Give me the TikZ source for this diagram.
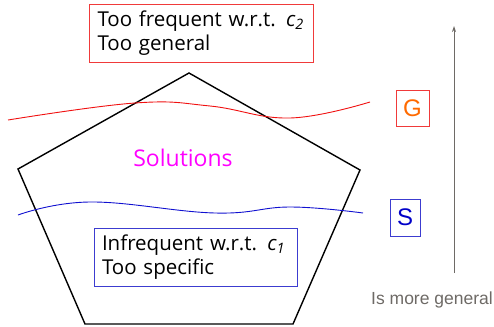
\documentclass[tikz,border=0pt]{standalone}
\usepackage{fontspec}
\setmainfont{Open Sans}
\newfontfamily\arialfont{Liberation Sans}
\usetikzlibrary{arrows.meta}
\definecolor{boxred}{HTML}{F03A3A}
\definecolor{boxblue}{HTML}{3C3CD0}
\definecolor{curvered}{HTML}{F01010}
\definecolor{curveblue}{HTML}{1010D0}
\definecolor{gorange}{HTML}{FF6A00}
\definecolor{sblue}{HTML}{0000C8}
\definecolor{axisgray}{HTML}{6E6A66}
\definecolor{solmagenta}{HTML}{FF00FF}
\tikzset{
  infobox/.style={draw, line width=0.9pt, align=left, anchor=center,
    inner xsep=8pt, font=\fontsize{20.5}{23.5}\selectfont},
  letterbox/.style={draw, line width=0.9pt, inner sep=0pt,
    font=\arialfont\fontsize{24}{24}\selectfont},
  region/.style={line width=1.4pt, line join=miter},
  border/.style={line width=0.9pt}
}
\begin{document}
\begin{tikzpicture}[x=1pt,y=-1pt]
\useasboundingbox (0,0) rectangle (494,326);

% the space of solutions
\coordinate (top) at (189,73);
\coordinate (right) at (360,170);
\coordinate (bright) at (293,324);
\coordinate (bleft) at (85,324);
\coordinate (left) at (18,169);
\draw[region] (top) -- (right) -- (bright) -- (bleft) -- (left) -- cycle;

% G and S borders
\draw[border, curvered] plot[smooth, tension=0.7] coordinates
  {(8,120) (135,103) (210,106) (290,118) (370,102)};
\draw[border, curveblue] plot[smooth, tension=0.7] coordinates
  {(18,215) (90,202) (215,213) (290,207) (363,213)};

\node[text=solmagenta, font=\fontsize{23}{23}\selectfont] (sol) at (183,158) {Solutions};

% boxes
\node[infobox, draw=boxred, minimum width=224pt, minimum height=58pt, text width=207pt]
  (gen) at (201,33) {Too frequent w.r.t. {\itshape c\textsubscript{2}}\\Too general};
\node[infobox, draw=boxblue, minimum width=203pt, minimum height=58pt, text width=187pt]
  (spec) at (195.5,257) {Infrequent w.r.t. {\itshape c\textsubscript{1}}\\Too specific};

\node[letterbox, draw=boxred, text=gorange, minimum width=33pt, minimum height=36pt]
  (gbox) at (412.5,108) {G};
\node[letterbox, draw=boxblue, text=sblue, minimum width=30pt, minimum height=37pt]
  (sbox) at (405,217.5) {S};

% generality axis
\coordinate (abot) at (454,273);
\coordinate (atop) at (454,26);
\draw[axisgray, line width=0.9pt, -{Stealth[length=6pt,width=4pt]}] (abot) -- (atop);
\node[text=axisgray, font=\arialfont\fontsize{17.5}{17.5}\selectfont, anchor=base]
  (lbl) at (432,304) {Is more general};
\end{tikzpicture}
\end{document}
